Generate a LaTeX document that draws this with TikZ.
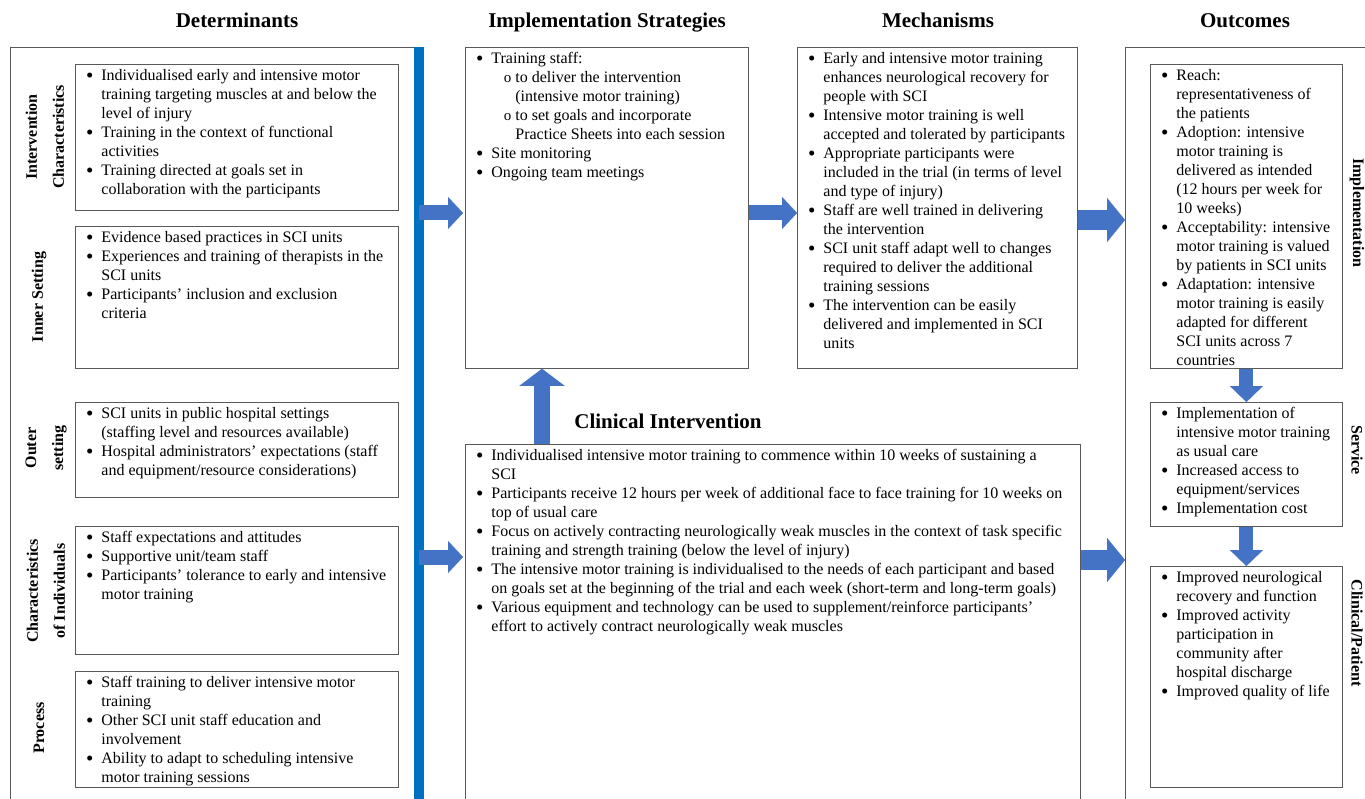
\documentclass[tikz,border=0pt]{standalone}
\usepackage{fontspec}
\setmainfont{Liberation Serif}
\usepackage{enumitem}
\usetikzlibrary{arrows.meta, calc}

\definecolor{barblue}{HTML}{0070C0}
\definecolor{arrowblue}{HTML}{4472C4}
\definecolor{framegray}{HTML}{595959}

\newlist{pts}{itemize}{2}
\setlist[pts,1]{label={\smash{\raisebox{-2pt}{\fontsize{21}{19}\selectfont\textbullet}}}, nosep, leftmargin=23pt, labelsep=8pt}
\setlist[pts,2]{label={\fontsize{15}{19}\selectfont o}, nosep, leftmargin=24pt, labelsep=4pt}
\newcommand{\bodyfont}{\fontsize{16}{19}\selectfont}
\newcommand{\cell}[3]{\parbox[t][#1][t]{#2}{\bodyfont\raggedright #3}}

\begin{document}
\begin{tikzpicture}[
    x=1pt, y=-1pt,
    ibox/.style={draw=framegray, line width=0.8pt, anchor=north west, inner xsep=3pt, inner ysep=5pt},
    colframe/.style={draw=framegray, line width=0.8pt, anchor=north west, inner sep=0pt},
    headline/.style={font=\fontsize{21}{25}\selectfont\bfseries, anchor=base},
    sidelabel/.style={font=\fontsize{16}{27}\selectfont\bfseries, align=center, rotate=90},
    outlabel/.style={font=\fontsize{16}{27}\selectfont\bfseries, align=center, rotate=-90},
    blockarrow/.style={draw=arrowblue, line width=15pt, -{Triangle[length=15pt, width=32pt, line width=0.01pt]}},
    bigarrow/.style={draw=arrowblue, line width=20pt, -{Triangle[length=18pt, width=44pt, line width=0.01pt]}},
    uparrow/.style={draw=arrowblue, line width=16pt, -{Triangle[length=17pt, width=45pt, line width=0.01pt]}},
    downarrow/.style={draw=arrowblue, line width=14pt, -{Triangle[length=16pt, width=33pt, line width=0.01pt]}}
]
\useasboundingbox[fill=white] (0,0) rectangle (1365,799);

\node[headline] (hdet) at (237,28) {Determinants};
\node[headline] (hstr) at (607,28) {Implementation Strategies};
\node[headline] (hmec) at (938,28) {Mechanisms};
\node[headline] (hout) at (1245,28) {Outcomes};

% determinants column
\node[colframe, minimum width=409, minimum height=770] (dframe) at (10,47) {};
\node[fill=barblue, anchor=north west, minimum width=10, minimum height=770, inner sep=0pt] (bar) at (414,47) {};

\node[ibox] (ic) at (75,64) {\cell{136pt}{317pt}{\begin{pts}
  \item Individualised early and intensive motor\\training targeting muscles at and below the\\level of injury
  \item Training in the context of functional\\activities
  \item Training directed at goals set in\\collaboration with the participants
\end{pts}}};
\node[ibox] (is) at (75,226) {\cell{132pt}{317pt}{\begin{pts}
  \item Evidence based practices in SCI units
  \item Experiences and training of therapists in the\\SCI units
  \item Participants’ inclusion and exclusion\\criteria
\end{pts}}};
\node[ibox] (os) at (75,402) {\cell{85pt}{317pt}{\begin{pts}
  \item SCI units in public hospital settings\\(staffing level and resources available)
  \item Hospital administrators’ expectations (staff\\and equipment/resource considerations)
\end{pts}}};
\node[ibox] (ci) at (75,526) {\cell{118pt}{317pt}{\begin{pts}
  \item Staff expectations and attitudes
  \item Supportive unit/team staff
  \item Participants’ tolerance to early and intensive\\motor training
\end{pts}}};
\node[ibox] (pr) at (75,671) {\cell{106pt}{317pt}{\begin{pts}
  \item Staff training to deliver intensive motor\\training
  \item Other SCI unit staff education and\\involvement
  \item Ability to adapt to scheduling intensive\\motor training sessions
\end{pts}}};

\node[sidelabel] (lic) at (45,137) {Intervention\\Characteristics};
\node[sidelabel] (lis) at (39,297) {Inner Setting};
\node[sidelabel] (los) at (46,448) {Outer\\setting};
\node[sidelabel] (lci) at (46,591) {Characteristics\\of Individuals};
\node[sidelabel] (lpr) at (39,728) {Process};

% strategies, mechanisms, intervention
\node[ibox] (strat) at (465,47) {\cell{311pt}{277pt}{\begin{pts}
  \item Training staff:
  \begin{pts}
    \item to deliver the intervention\\(intensive motor training)
    \item to set goals and incorporate\\Practice Sheets into each session
  \end{pts}
  \item Site monitoring
  \item Ongoing team meetings
\end{pts}}};
\node[ibox] (mech) at (797,47) {\cell{311pt}{274pt}{\begin{pts}
  \item Early and intensive motor training\\enhances neurological recovery for\\people with SCI
  \item Intensive motor training is well\\accepted and tolerated by participants
  \item Appropriate participants were\\included in the trial (in terms of level\\and type of injury)
  \item Staff are well trained in delivering\\the intervention
  \item SCI unit staff adapt well to changes\\required to deliver the additional\\training sessions
  \item The intervention can be easily\\delivered and implemented in SCI\\units
\end{pts}}};
\node[headline] (hcli) at (668,428) {Clinical Intervention};
\node[ibox] (clin) at (465,444) {\cell{370pt}{609pt}{\begin{pts}
  \item Individualised intensive motor training to commence within 10 weeks of sustaining a\\SCI
  \item Participants receive 12 hours per week of additional face to face training for 10 weeks on\\top of usual care
  \item Focus on actively contracting neurologically weak muscles in the context of task specific\\training and strength training (below the level of injury)
  \item The intensive motor training is individualised to the needs of each participant and based\\on goals set at the beginning of the trial and each week (short-term and long-term goals)
  \item Various equipment and technology can be used to supplement/reinforce participants’\\effort to actively contract neurologically weak muscles
\end{pts}}};

% outcomes column
\node[colframe, minimum width=300, minimum height=770] (oframe) at (1125,47) {};
\node[ibox] (oimp) at (1150,64) {\cell{294pt}{186pt}{\begin{pts}
  \item Reach:\\representativeness of\\the patients
  \item Adoption: intensive\\motor training is\\delivered as intended\\(12 hours per week for\\10 weeks)
  \item Acceptability: intensive\\motor training is valued\\by patients in SCI units
  \item Adaptation: intensive\\motor training is easily\\adapted for different\\SCI units across 7\\countries
\end{pts}}};
\node[ibox] (oser) at (1150,402) {\cell{114pt}{186pt}{\begin{pts}
  \item Implementation of\\intensive motor training\\as usual care
  \item Increased access to\\equipment/services
  \item Implementation cost
\end{pts}}};
\node[ibox] (ocli) at (1150,566) {\cell{211pt}{186pt}{\begin{pts}
  \item Improved neurological\\recovery and function
  \item Improved activity\\participation in\\community after\\hospital discharge
  \item Improved quality of life
\end{pts}}};

\node[outlabel] (limp) at (1357,213) {Implementation};
\node[outlabel] (lser) at (1357,450) {Service};
\node[outlabel] (lcli) at (1357,633) {Clinical/Patient};

% arrows
\coordinate (a1) at ($(strat.north west)+(-2,166)$);
\coordinate (a2) at ($(clin.north west)+(-2,113)$);
\coordinate (a3) at ($(mech.north east)+(0,173)$);
\coordinate (a4) at ($(clin.north east)+(0,116)$);
\coordinate (a5) at ($(clin.north west)+(77,0)$);
\draw[blockarrow] (bar.center |- a1) -- (a1);
\draw[blockarrow] (bar.center |- a2) -- (a2);
\draw[blockarrow] (strat.east |- a1) -- (mech.west |- a1);
\draw[bigarrow] (a3) -- (oframe.west |- a3);
\draw[bigarrow] (a4) -- (oframe.west |- a4);
\draw[uparrow] (a5) -- (a5 |- strat.south);
\draw[downarrow] (oimp.south) -- (oser.north);
\draw[downarrow] (oser.south) -- (ocli.north);
\end{tikzpicture}
\end{document}
